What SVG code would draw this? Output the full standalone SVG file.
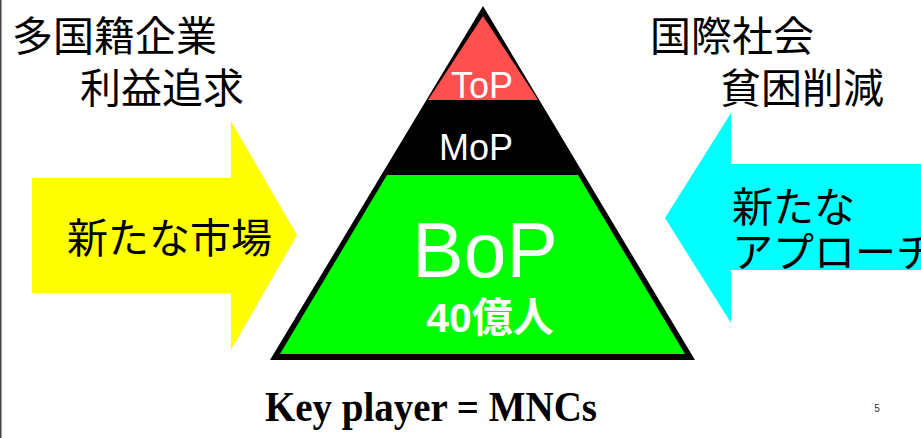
<svg xmlns="http://www.w3.org/2000/svg" width="921" height="438" viewBox="0 0 921 438">
  <style>
    .jp { font-family: "Noto Sans CJK JP", "Noto Sans", sans-serif; fill: #000; font-size: 41px; }
    .lbl { font-family: "Liberation Sans", Arial, sans-serif; fill: #fff; text-anchor: middle; }
    .key { font-family: "Liberation Serif", "Times New Roman", serif; font-weight: bold; fill: #000; }
  </style>
  <rect x="0" y="0" width="921" height="438" fill="#fff"/>
  <line x1="0.75" y1="0" x2="0.75" y2="438" stroke="#444" stroke-width="1.5"/>

  <g id="connectors">
    <polygon id="arrow-left" points="32,178 231,178 231,121 297,235 231,350 231,293 32,293" fill="#ffff00"/>
    <polygon id="arrow-right" points="921,164 731,164 731,113 665,218 731,323 731,270 921,270" fill="#00ffff"/>
  </g>

  <g id="pyramid">
    <polygon points="483,6 270,360 695,360" fill="#000"/>
    <polygon id="top-band" points="483,16 538,100 428,100" fill="#ff5050"/>
    <polygon id="bottom-band" points="387,175 578,175 685,354 280,354" fill="#00ff00"/>
  </g>

  <g id="node-top">
    <text class="lbl" x="482" y="98" font-size="36">ToP</text>
  </g>
  <g id="node-mop">
    <text class="lbl" x="476" y="160" font-size="36">MoP</text>
  </g>
  <g id="node-bop">
    <text class="lbl" x="485" y="277" font-size="77">BoP</text>
    <text class="lbl" x="490" y="332" font-size="41" font-weight="bold" style="font-family: 'Liberation Sans', 'Noto Sans CJK JP', sans-serif;">40億人</text>
  </g>

  <g id="node-mnc">
    <text class="jp" x="12" y="51">多国籍企業</text>
    <text class="jp" x="80" y="103">利益追求</text>
  </g>
  <g id="node-market">
    <text class="jp" x="67" y="253">新たな市場</text>
  </g>

  <g id="node-intl">
    <text class="jp" x="650" y="51">国際社会</text>
    <text class="jp" x="720" y="103">貧困削減</text>
  </g>
  <g id="node-approach">
    <text class="jp" x="732" y="222" font-size="40">新たな</text>
    <text class="jp" x="732" y="267" font-size="40">アプローチ</text>
  </g>

  <g id="node-key">
    <text class="key" x="265" y="421" font-size="43" textLength="332" lengthAdjust="spacingAndGlyphs">Key player = MNCs</text>
  </g>
  <text x="877" y="412" font-family="Liberation Sans, sans-serif" font-size="10" fill="#333" text-anchor="middle">5</text>
</svg>
